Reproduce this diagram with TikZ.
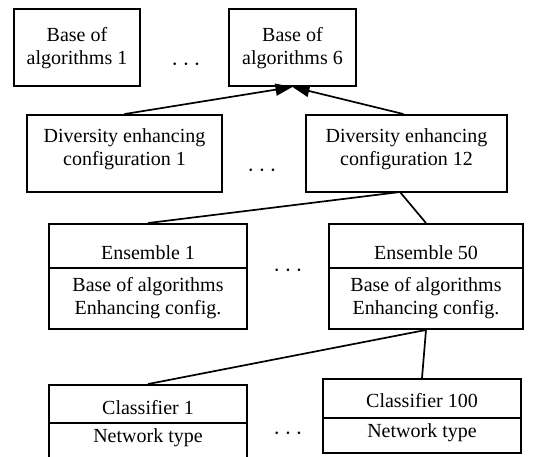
\documentclass[tikz,border=0pt]{standalone}
\usepackage{fontspec}
\setmainfont{Liberation Serif}
\usetikzlibrary{arrows.meta}
\begin{document}
\begin{tikzpicture}[x=1pt,y=-1pt,
  box/.style={draw, line width=1.9pt, inner sep=0pt, rectangle},
  lbl/.style={inner sep=0pt, align=center, font=\fontsize{20}{23}\selectfont},
  divl/.style={line width=1.9pt},
  conn/.style={line width=1.7pt},
  arr/.style={line width=1.7pt, -{Triangle[length=17pt,width=12pt]}},
  dotsn/.style={inner sep=0pt, font=\fontsize{25}{28}\selectfont}]
\useasboundingbox (0,0) rectangle (558,457);
\clip (0,0) rectangle (558,457);
\fill[white] (0,0) rectangle (558,457);
% top row
\node[box, minimum width=126pt, minimum height=77pt] (a1) at (77,47.5) {};
\node[lbl] (a1t) at (77,48.5) {Base of\\algorithms 1};
\node[box, minimum width=127pt, minimum height=77pt] (a6) at (292.5,47.5) {};
\node[lbl] (a6t) at (292.5,48.5) {Base of\\algorithms 6};
\node[dotsn] (dots1) at (186,65) {$\cdots$};
% second row
\node[box, minimum width=195pt, minimum height=77pt] (d1) at (124.5,153.5) {};
\node[lbl] (d1t) at (124.5,149) {Diversity enhancing\\configuration 1};
\node[box, minimum width=201pt, minimum height=77pt] (d12) at (406.5,153.5) {};
\node[lbl] (d12t) at (406.5,149) {Diversity enhancing\\configuration 12};
\node[dotsn] (dots2) at (262,171) {$\cdots$};
% third row
\node[box, minimum width=198pt, minimum height=105pt] (e1) at (148,276.5) {};
\coordinate (e1dl) at (49,268);
\coordinate (e1dr) at (247,268);
\draw[divl] (e1dl) -- (e1dr);
\node[lbl] (e1a) at (148,253) {Ensemble 1};
\node[lbl] (e1b) at (148,298) {Base of algorithms\\Enhancing config.};
\node[box, minimum width=194pt, minimum height=105pt] (e50) at (426,276.5) {};
\coordinate (e50dl) at (329,268);
\coordinate (e50dr) at (523,268);
\draw[divl] (e50dl) -- (e50dr);
\node[lbl] (e50a) at (426,253) {Ensemble 50};
\node[lbl] (e50b) at (426,298) {Base of algorithms\\Enhancing config.};
\node[dotsn] (dots3) at (288,271) {$\cdots$};
% fourth row
\node[box, minimum width=198pt, minimum height=95pt] (c1) at (148,432.5) {};
\coordinate (c1dl) at (49,423);
\coordinate (c1dr) at (247,423);
\draw[divl] (c1dl) -- (c1dr);
\node[lbl] (c1a) at (148,408) {Classifier 1};
\node[lbl] (c1b) at (148,438) {Network type};
\node[box, minimum width=198pt, minimum height=74pt] (c100) at (422,416) {};
\coordinate (c100dl) at (323,418);
\coordinate (c100dr) at (521,418);
\draw[divl] (c100dl) -- (c100dr);
\node[lbl] (c100a) at (422,401) {Classifier 100};
\node[lbl] (c100b) at (422,433) {Network type};
\node[dotsn] (dots4) at (288,434) {$\cdots$};
% connectors
\draw[arr] (d1.north) -- (a6.south);
\draw[arr] ([xshift=-3pt]d12.north) -- (a6.south);
\coordinate (d12b) at (400,192);
\draw[conn] (d12b) -- (e1.north);
\draw[conn] (d12b) -- (e50.north);
\draw[conn] (e50.south) -- (c1.north);
\draw[conn] (e50.south) -- (c100.north);
\end{tikzpicture}
\end{document}
